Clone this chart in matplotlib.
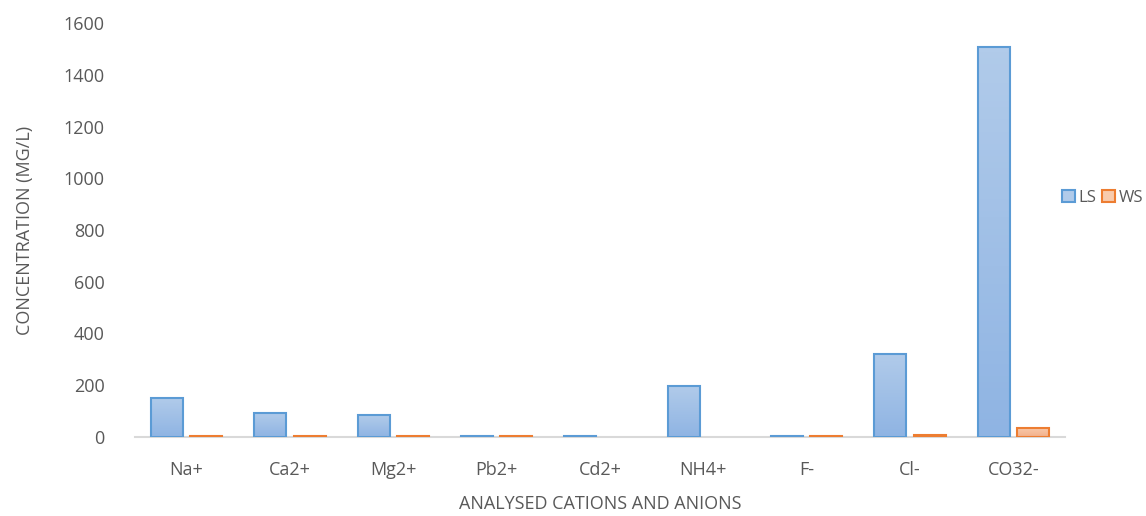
import numpy as np
import matplotlib.pyplot as plt
from matplotlib.patches import Patch

plt.rcParams['font.family'] = ['Open Sans', 'DejaVu Sans']

ions = ['Na+', 'Ca2+', 'Mg2+', 'Pb2+', 'Cd2+', 'NH4+', 'F-', 'Cl-', 'CO32-']
ls_values = [152, 93, 85, 2, 2, 198, 2, 321, 1508]
ws_values = [5, 4, 3, 2, 0, 0, 2, 8, 35]

LS_EDGE = '#5b9bd5'
WS_EDGE = '#ed7d31'
LS_TOP, LS_BOT = '#b1cbea', '#8fb4e3'
WS_TOP, WS_BOT = '#f8cbad', '#f4b08a'


def gradient_bars(ax, bars, top_color, bot_color):
    """Fill each bar with a vertical gradient clipped to the bar."""
    from matplotlib.colors import LinearSegmentedColormap
    cmap = LinearSegmentedColormap.from_list('g', [bot_color, top_color])
    grad = np.linspace(0, 1, 64).reshape(-1, 1)
    for b in bars:
        x0, y0 = b.get_x(), b.get_y()
        w, h = b.get_width(), b.get_height()
        if h <= 0:
            # nothing to show for empty values
            b.set_visible(False)
            continue
        im = ax.imshow(grad, cmap=cmap, aspect='auto', origin='lower',
                       extent=(x0, x0 + w, y0, y0 + h), zorder=2)
        im.set_clip_path(b)


fig = plt.figure(figsize=(11.46, 5.16), dpi=100)
ax = fig.add_axes([135 / 1146, 79 / 516, 930 / 1146, 414 / 516])

x = np.arange(len(ions))
width = 0.31
gap = 0.07
ls_bars = ax.bar(x - (width + gap) / 2, ls_values, width,
                 facecolor='none', edgecolor=LS_EDGE, linewidth=1.5, zorder=3)
ws_bars = ax.bar(x + (width + gap) / 2, ws_values, width,
                 facecolor='none', edgecolor=WS_EDGE, linewidth=1.5, zorder=3)
gradient_bars(ax, ls_bars, LS_TOP, LS_BOT)
gradient_bars(ax, ws_bars, WS_TOP, WS_BOT)

ax.set_xlim(-0.5, len(ions) - 0.5)
ax.set_ylim(0, 1600)
ax.set_yticks(range(0, 1601, 200))
ax.set_xticks(x)
ax.set_xticklabels(ions)

for side in ['top', 'right', 'left']:
    ax.spines[side].set_visible(False)
ax.spines['bottom'].set_color('#d9d9d9')
ax.spines['bottom'].set_linewidth(1.5)
ax.tick_params(axis='both', length=0, labelsize=13, colors='#595959')
ax.tick_params(axis='x', pad=17)
ax.tick_params(axis='y', pad=22)

ax.set_ylabel('CONCENTRATION (MG/L)', fontsize=13, color='#595959', labelpad=21)
ax.set_xlabel('ANALYSED CATIONS AND ANIONS', fontsize=13, color='#595959', labelpad=12)

handles = [Patch(facecolor=LS_TOP, edgecolor=LS_EDGE, linewidth=1.5, label='LS'),
           Patch(facecolor=WS_TOP, edgecolor=WS_EDGE, linewidth=1.5, label='WS')]
fig.legend(handles=handles, loc='center left', bbox_to_anchor=(1062 / 1146, 318 / 516),
           ncol=2, frameon=False, fontsize=12, labelcolor='#595959', borderpad=0,
           borderaxespad=0, handlelength=0.75, handleheight=0.75,
           handletextpad=0.25, columnspacing=0.35)

fig.savefig('out.png', dpi=100)
